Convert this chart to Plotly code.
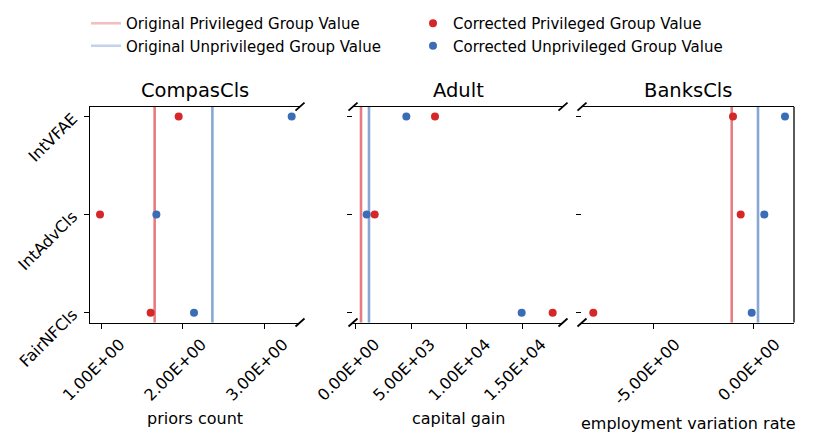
import plotly.graph_objects as go

# ---------------- data ----------------
methods = ["IntVFAE", "IntAdvCls", "FairNFCls"]
y_order = ["FairNFCls", "IntAdvCls", "IntVFAE"]
datasets = ["CompasCls", "Adult", "BanksCls"]
features = ["priors count", "capital gain", "employment variation rate"]

compas_orig_priv = 1.657
compas_orig_unpriv = 2.364
compas_corr_priv = [1.951, 0.988, 1.608]
compas_corr_unpriv = [3.335, 1.678, 2.139]

adult_orig_priv = 477
adult_orig_unpriv = 1197
adult_corr_priv = [7140, 1708, 17734]
adult_corr_unpriv = [4559, 988, 14943]

banks_orig_priv = -1.08
banks_orig_unpriv = 0.235
banks_corr_priv = [-1.015, -0.63, -8.0]
banks_corr_unpriv = [1.585, 0.55, -0.08]

compas_tickvals = [1, 2, 3]
compas_ticktext = ["1.00E+00", "2.00E+00", "3.00E+00"]
adult_tickvals = [0, 5000, 10000, 15000]
adult_ticktext = ["0.00E+00", "5.00E+03", "1.00E+04", "1.50E+04"]
banks_tickvals = [-5, 0]
banks_ticktext = ["-5.00E+00", "0.00E+00"]

legend_names = ["Original Privileged Group Value", "Original Unprivileged Group Value",
                "Corrected Privileged Group Value", "Corrected Unprivileged Group Value"]

# ---------------- styling ----------------
RED = "#d62728"
BLUE = "#3a6db5"
RED_LINE = "rgba(214,39,40,0.6)"
BLUE_LINE = "rgba(58,109,181,0.6)"
RED_LEG = "rgba(214,39,40,0.3)"
BLUE_LEG = "rgba(58,109,181,0.3)"
FONT = "DejaVu Sans"
W, H = 813, 444

panels = [
    dict(orig_p=compas_orig_priv, orig_u=compas_orig_unpriv, cp=compas_corr_priv, cu=compas_corr_unpriv,
         tv=compas_tickvals, tt=compas_ticktext, rng=[0.8653, 3.437], dom=[90, 300], shift=19),
    dict(orig_p=adult_orig_priv, orig_u=adult_orig_unpriv, cp=adult_corr_priv, cu=adult_corr_unpriv,
         tv=adult_tickvals, tt=adult_ticktext, rng=[-243, 18664], dom=[353, 563], shift=19),
    dict(orig_p=banks_orig_priv, orig_u=banks_orig_unpriv, cp=banks_corr_priv, cu=banks_corr_unpriv,
         tv=banks_tickvals, tt=banks_ticktext, rng=[-8.565, 2.035], dom=[582, 794], shift=22),
]

ydom = [(H - 322.5) / H, (H - 106.7) / H]

fig = go.Figure()
shapes = []
annotations = []
layout = {}

for i, p in enumerate(panels):
    n = "" if i == 0 else str(i + 1)
    xa, ya = "x" + n, "y" + n
    fig.add_trace(go.Scatter(x=p["cp"], y=methods, mode="markers", xaxis=xa, yaxis=ya,
                             marker=dict(color=RED, size=8), showlegend=False, hoverinfo="x+y"))
    fig.add_trace(go.Scatter(x=p["cu"], y=methods, mode="markers", xaxis=xa, yaxis=ya,
                             marker=dict(color=BLUE, size=8), showlegend=False, hoverinfo="x+y"))
    for v, c in [(p["orig_p"], RED_LINE), (p["orig_u"], BLUE_LINE)]:
        shapes.append(dict(type="line", xref=xa, yref=ya + " domain", x0=v, x1=v, y0=0, y1=1,
                           line=dict(color=c, width=2.6), layer="below"))
    layout["xaxis" + n] = dict(
        domain=[p["dom"][0] / W, p["dom"][1] / W], range=p["rng"], anchor=ya, automargin=False,
        tickmode="array", tickvals=p["tv"], ticktext=p["tt"], tickangle=-45,
        ticklabelshift=p["shift"],
        ticks="outside", ticklen=5, tickwidth=1.2, tickcolor="black",
        showline=True, mirror=True, linecolor="black", linewidth=1.3,
        showgrid=False, zeroline=False, tickfont=dict(size=16, color="black", family=FONT),
    )
    layout["yaxis" + n] = dict(
        domain=ydom, anchor=xa, type="category", categoryorder="array", categoryarray=y_order,
        range=[-0.1, 2.1], ticks="outside", ticklen=5, tickwidth=1.2, tickcolor="black",
        showline=(i == 0), linecolor="black", linewidth=1.3, showgrid=False, zeroline=False,
        automargin=False, showticklabels=(i == 0), tickangle=-45, ticklabelstandoff=8,
        tickfont=dict(size=16, color="black", family=FONT),
    )
    # titles and x-axis labels
    annotations.append(dict(text=datasets[i], xref=xa + " domain", x=0.5, yref="paper",
                            y=(H - 90) / H, yanchor="middle", showarrow=False,
                            font=dict(size=19.5, color="black", family=FONT)))
    annotations.append(dict(text=features[i], xref=xa + " domain", x=0.5, yref="paper",
                            y=(H - (423 if i == 2 else 418)) / H, yanchor="middle", showarrow=False,
                            font=dict(size=16, color="black", family=FONT)))
    # break marks
    corners = []
    if i < 2:
        corners += [(1, 0), (1, 1)]
    if i > 0:
        corners += [(0, 0), (0, 1)]
    for cx, cy in corners:
        shapes.append(dict(type="line", xref=xa + " domain", yref=ya + " domain",
                           xsizemode="pixel", ysizemode="pixel", xanchor=cx, yanchor=cy,
                           x0=-4.5, x1=4.5, y0=-4, y1=4, line=dict(color="black", width=1.8)))

# right spine of last panel
shapes.append(dict(type="line", xref="x3 domain", yref="y3 domain", x0=1, x1=1, y0=0, y1=1,
                   line=dict(color="black", width=1.3)))

# legend entries
fig.add_trace(go.Scatter(x=[None], y=[None], mode="lines", name=legend_names[0],
                         line=dict(color=RED_LEG, width=2.6), legend="legend"))
fig.add_trace(go.Scatter(x=[None], y=[None], mode="lines", name=legend_names[1],
                         line=dict(color=BLUE_LEG, width=2.6), legend="legend"))
fig.add_trace(go.Scatter(x=[None], y=[None], mode="markers", name=legend_names[2],
                         marker=dict(color=RED, size=8), legend="legend2"))
fig.add_trace(go.Scatter(x=[None], y=[None], mode="markers", name=legend_names[3],
                         marker=dict(color=BLUE, size=8), legend="legend2"))

legend_common = dict(yanchor="top", y=(H - 7) / H, xanchor="left", orientation="v",
                     font=dict(size=15, color="black", family=FONT), bgcolor="rgba(0,0,0,0)",
                     tracegroupgap=0, itemclick=False)

fig.update_layout(
    width=W, height=H, autosize=False,
    margin=dict(l=0, r=0, t=0, b=0, pad=0),
    paper_bgcolor="white", plot_bgcolor="white",
    font=dict(family=FONT, color="black"),
    shapes=shapes, annotations=annotations,
    legend=dict(x=86 / W, **legend_common),
    legend2=dict(x=413 / W, **legend_common),
    **layout,
)

fig.write_html("out.html", config={"displayModeBar": False},
               post_script="document.body.style.margin='0';document.body.style.overflow='hidden';")
